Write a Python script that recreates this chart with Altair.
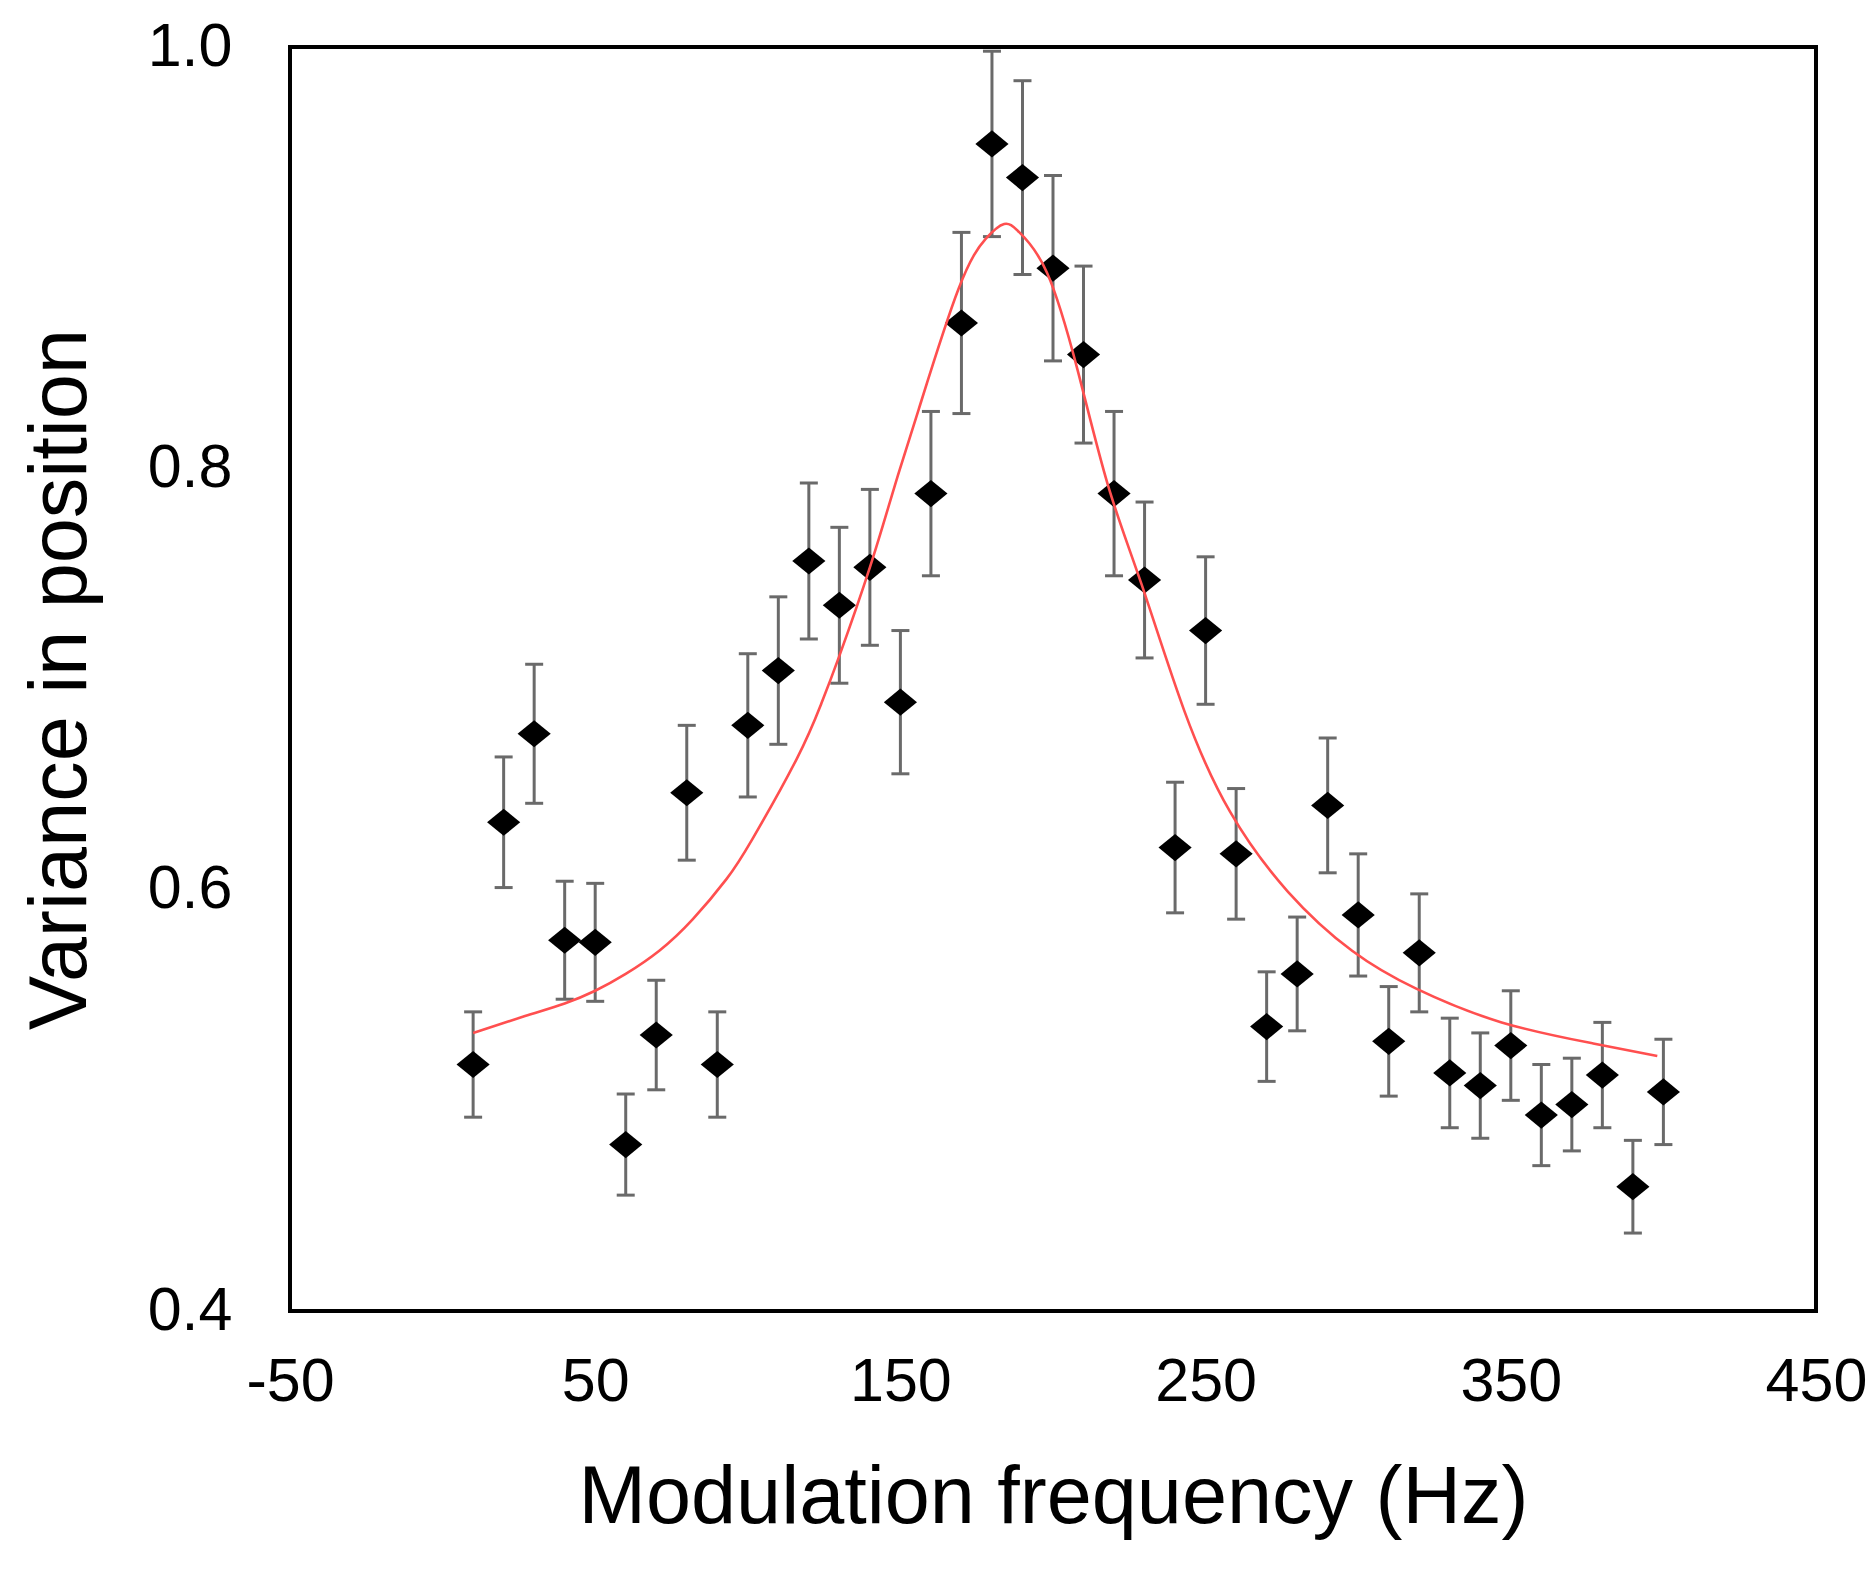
import altair as alt
import pandas as pd

freq = [10, 20, 30, 40, 50, 60, 70, 80, 90, 100,
        110, 120, 130, 140, 150, 160, 170, 180, 190, 200,
        210, 220, 230, 240, 250, 260, 270, 280, 290, 300,
        310, 320, 330, 340, 350, 360, 370, 380, 390, 400]
variance = [0.517, 0.632, 0.674, 0.576, 0.575, 0.479, 0.531, 0.646, 0.517, 0.678,
            0.704, 0.756, 0.735, 0.753, 0.689, 0.788, 0.869, 0.954, 0.938, 0.895,
            0.854, 0.788, 0.747, 0.620, 0.723, 0.617, 0.535, 0.560, 0.640, 0.588,
            0.528, 0.570, 0.513, 0.507, 0.526, 0.493, 0.498, 0.512, 0.459, 0.504]
error = [0.025, 0.031, 0.033, 0.028, 0.028, 0.024, 0.026, 0.032, 0.025, 0.034,
         0.035, 0.037, 0.037, 0.037, 0.034, 0.039, 0.043, 0.044, 0.046, 0.044,
         0.042, 0.039, 0.037, 0.031, 0.035, 0.031, 0.026, 0.027, 0.032, 0.029,
         0.026, 0.028, 0.026, 0.025, 0.026, 0.024, 0.022, 0.025, 0.022, 0.025]

# Fitted curve
fit_freq = [10, 27, 40, 50, 60, 71, 82, 93, 101.5, 116, 124, 130, 140, 148, 156,
            169, 178, 184, 189, 198, 208, 218, 229, 243, 258, 277, 298, 319, 347,
            377, 398]
fit_val = [0.532, 0.540, 0.546, 0.552, 0.560, 0.571, 0.586, 0.605, 0.624, 0.662,
           0.688, 0.711, 0.753, 0.791, 0.828, 0.885, 0.909, 0.916, 0.912, 0.893,
           0.847, 0.792, 0.745, 0.685, 0.637, 0.599, 0.571, 0.553, 0.537, 0.527,
           0.521]

x_ticks = [-50, 50, 150, 250, 350, 450]
y_ticks = [0.4, 0.6, 0.8, 1.0]

pts = pd.DataFrame({"freq": freq, "variance": variance, "error": error})
fit = pd.DataFrame({"freq": fit_freq, "value": fit_val})

FONT = "Liberation Sans"
GRAY = "#6a6a6a"

xscale = alt.Scale(domain=[-50, 450], nice=False, zero=False)
yscale = alt.Scale(domain=[0.4, 1.0], nice=False, zero=False)

xaxis = alt.Axis(values=x_ticks, title="Modulation frequency (Hz)",
                 labelExpr="'' + datum.value",
                 labelFontSize=61, titleFontSize=81, labelFont=FONT, titleFont=FONT,
                 labelColor="black", titleColor="black", titleFontWeight="normal",
                 labelBaseline="alphabetic", labelPadding=89, titleBaseline="alphabetic",
                 titleY=211, ticks=False, tickSize=0, domain=False, grid=False,
                 labelFlush=False, labelOverlap=False)
yaxis = alt.Axis(values=y_ticks, title="Variance in position", format=".1f",
                 labelFontSize=61, titleFontSize=81, labelFont=FONT, titleFont=FONT,
                 labelColor="black", titleColor="black", titleFontWeight="normal",
                 labelPadding=58, titleBaseline="alphabetic", titleX=-205, titleY=632,
                 ticks=False, tickSize=0, domain=False, grid=False,
                 labelFlush=False, labelOverlap=False)

base = alt.Chart(pts).transform_calculate(
    lo="datum.variance - datum.error",
    hi="datum.variance + datum.error",
)

bars = base.mark_rule(color=GRAY, strokeWidth=3).encode(
    x=alt.X("freq:Q", scale=xscale, axis=xaxis),
    y=alt.Y("lo:Q", scale=yscale, axis=yaxis),
    y2="hi:Q",
)
cap_lo = base.mark_tick(orient="horizontal", color=GRAY, size=18, thickness=3, opacity=1).encode(
    x=alt.X("freq:Q", scale=xscale),
    y=alt.Y("lo:Q", scale=yscale),
)
cap_hi = base.mark_tick(orient="horizontal", color=GRAY, size=18, thickness=3, opacity=1).encode(
    x=alt.X("freq:Q", scale=xscale),
    y=alt.Y("hi:Q", scale=yscale),
)
points = base.mark_point(shape="M0,-0.82L1,0L0,0.82L-1,0Z", filled=True, color="black",
                         size=1100, opacity=1, strokeWidth=0).encode(
    x=alt.X("freq:Q", scale=xscale),
    y=alt.Y("variance:Q", scale=yscale),
)
curve = alt.Chart(fit).mark_line(color="#ff4f4f", strokeWidth=2.6, interpolate="natural").encode(
    x=alt.X("freq:Q", scale=xscale),
    y=alt.Y("value:Q", scale=yscale),
)

chart = alt.layer(bars, cap_lo, cap_hi, points, curve).properties(
    width=1526,
    height=1264,
    autosize=alt.AutoSizeParams(type="none"),
    padding={"left": 282, "top": 39, "right": 51, "bottom": 250},
    background="white",
).configure_view(stroke="black", strokeWidth=4)

chart.save("out.html", embed_options={"renderer": "svg", "actions": False})
